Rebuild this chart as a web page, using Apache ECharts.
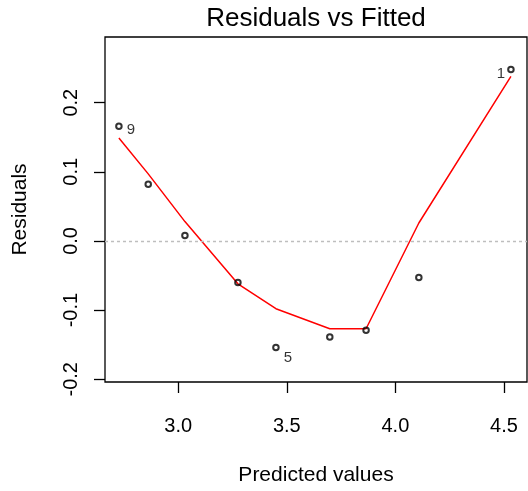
<!DOCTYPE html>
<html>
<head>
<meta charset="utf-8">
<script src="https://cdn.jsdelivr.net/npm/echarts@6/dist/echarts.min.js"></script>
<style>
html,body{margin:0;padding:0;background:#fff;}
#chart{width:528px;height:491px;}
</style>
</head>
<body>
<div id="chart"></div>
<script>
// Data
var fitted    = [2.727, 2.862, 3.031, 3.275, 3.450, 3.698, 3.865, 4.108, 4.532];
var residuals = [0.166, 0.082, 0.008, -0.060, -0.154, -0.139, -0.129, -0.053, 0.248];
var smooth    = [0.149, 0.097, 0.028, -0.062, -0.098, -0.127, -0.127, 0.026, 0.238];
var pointIds  = ['9', '', '', '', '5', '', '', '', '1'];
var xTicks = [3.0, 3.5, 4.0, 4.5];
var yTicks = [-0.2, -0.1, 0.0, 0.1, 0.2];

var FONT = 'Liberation Sans, Arial, sans-serif';
var xMid = (2.663 + 4.606) / 2;

var scatterData = fitted.map(function (x, i) {
  var item = { value: [x, residuals[i]] };
  if (pointIds[i]) {
    var right = x < xMid;
    item.label = {
      show: true,
      formatter: pointIds[i],
      position: right ? 'right' : 'left',
      distance: right ? 4 : 2,
      offset: [0, residuals[i] < 0 ? 10 : (right ? 3.5 : 4)],
      fontFamily: FONT,
      fontSize: 15,
      color: '#000'
    };
  }
  return item;
});

var lineData = fitted.map(function (x, i) { return [x, smooth[i]]; });

var chart = echarts.init(document.getElementById('chart'), null, { renderer: 'canvas' });
chart.setOption({
  animation: false,
  backgroundColor: '#fff',
  title: {
    text: 'Residuals vs Fitted',
    left: 316,
    top: 6,
    padding: 0,
    textAlign: 'center',
    textStyle: { fontFamily: FONT, fontSize: 26, fontWeight: 'normal', color: '#000' }
  },
  grid: {
    left: 105, right: 1, top: 37, bottom: 108,
    show: true, borderColor: '#000', borderWidth: 1.3, backgroundColor: 'transparent'
  },
  xAxis: {
    type: 'value',
    min: 2.663, max: 4.606,
    name: 'Predicted values',
    nameLocation: 'middle',
    nameGap: 83,
    nameTextStyle: { fontFamily: FONT, fontSize: 21, color: '#000' },
    axisLine: { show: false, onZero: false },
    splitLine: { show: false },
    axisTick: { show: true, length: 11, lineStyle: { color: '#000', width: 1.3 }, customValues: xTicks },
    axisLabel: {
      customValues: xTicks,
      margin: 34,
      fontFamily: FONT, fontSize: 20, color: '#000',
      formatter: function (v) { return v.toFixed(1); }
    }
  },
  yAxis: {
    type: 'value',
    min: -0.204, max: 0.295,
    name: 'Residuals',
    nameLocation: 'middle',
    nameGap: 74,
    nameTextStyle: { fontFamily: FONT, fontSize: 21, color: '#000' },
    axisLine: { show: false, onZero: false },
    splitLine: { show: false },
    axisTick: { show: true, length: 11, lineStyle: { color: '#000', width: 1.3 }, customValues: yTicks },
    axisLabel: {
      customValues: yTicks,
      rotate: 90,
      margin: 24,
      fontFamily: FONT, fontSize: 20, color: '#000',
      formatter: function (v) { return v.toFixed(1); }
    }
  },
  series: [
    {
      type: 'line',
      data: lineData,
      showSymbol: false,
      symbol: 'none',
      lineStyle: { color: '#ff0000', width: 1.5 },
      z: 2,
      markLine: {
        silent: true,
        symbol: ['none', 'none'],
        label: { show: false },
        lineStyle: { color: '#bebebe', type: [3, 3], width: 1.3 },
        data: [{ yAxis: 0 }]
      }
    },
    {
      type: 'scatter',
      data: scatterData,
      symbol: 'circle',
      symbolSize: 5.5,
      itemStyle: { color: 'rgba(0,0,0,0)', borderColor: '#000', borderWidth: 2 },
      z: 3
    }
  ]
});
</script>
</body>
</html>
